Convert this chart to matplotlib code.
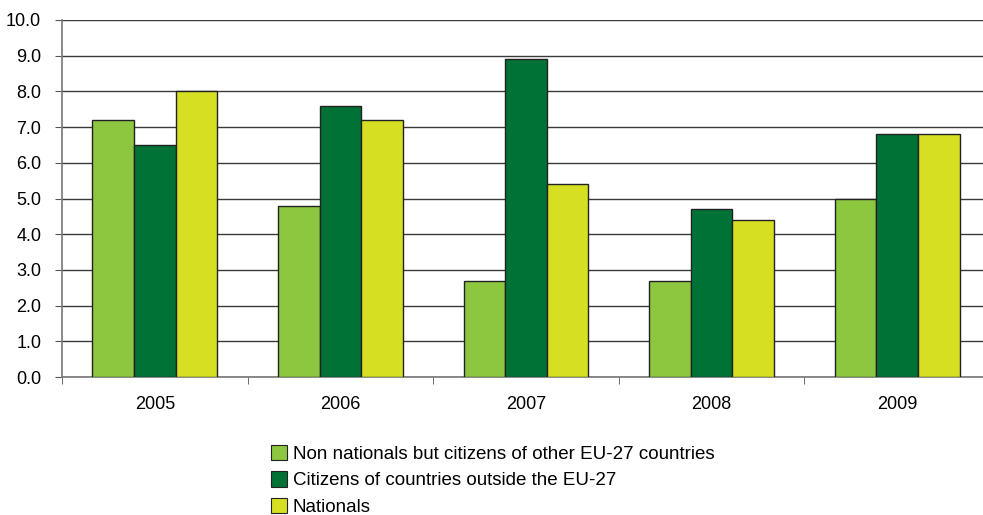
import numpy as np
import matplotlib
matplotlib.use("Agg")
import matplotlib.pyplot as plt
from matplotlib.patches import Patch

years = ["2005", "2006", "2007", "2008", "2009"]
eu_citizens = [7.2, 4.8, 2.7, 2.7, 5.0]
non_eu_citizens = [6.5, 7.6, 8.9, 4.7, 6.8]
nationals = [8.0, 7.2, 5.4, 4.4, 6.8]

series_labels = [
    "Non nationals but citizens of other EU-27 countries",
    "Citizens of countries outside the EU-27",
    "Nationals",
]
colors = ["#8DC63F", "#007236", "#D7DF23"]

plt.rcParams["font.family"] = ["Liberation Sans", "DejaVu Sans"]
plt.rcParams["font.size"] = 13

W, H = 983, 515
fig = plt.figure(figsize=(W / 100, H / 100), dpi=100)
ax = fig.add_axes([62 / W, (H - 377) / H, (990 - 62) / W, (377 - 20) / H])

x = np.arange(len(years))
bw = 0.224
for i, (vals, c) in enumerate(zip([eu_citizens, non_eu_citizens, nationals], colors)):
    ax.bar(x + (i - 1) * bw, vals, bw, color=c, edgecolor="#222222",
           linewidth=1.0, zorder=3)

ax.set_xlim(-0.5, len(years) - 0.5)
ax.set_ylim(0, 10)
ax.set_yticks(np.arange(0, 10.1, 1))
ax.set_yticklabels([f"{v:.1f}" for v in np.arange(0, 10.1, 1)])
ax.yaxis.grid(True, color="#3a3a3a", linewidth=1.0, zorder=0)

# year labels in the middle, tick marks on the group boundaries
ax.set_xticks(x)
ax.set_xticklabels(years)
ax.tick_params(axis="x", length=0, pad=14)
ax.set_xticks(np.arange(-0.5, len(years), 1), minor=True)
ax.tick_params(axis="x", which="minor", length=5, color="#555555")
ax.tick_params(axis="y", length=5, color="#555555", pad=10)

for side in ["top", "right"]:
    ax.spines[side].set_visible(False)
for side in ["left", "bottom"]:
    ax.spines[side].set_color("#777777")
    ax.spines[side].set_linewidth(1.2)

handles = [Patch(facecolor=c, edgecolor="#222222", linewidth=0.8) for c in colors]
fig.legend(handles, series_labels, loc="upper left",
           bbox_to_anchor=(263 / W, 1 - 437 / H), frameon=False,
           handlelength=0.9, handleheight=0.9, handletextpad=0.3,
           labelspacing=0.45, borderaxespad=0, fontsize=13.5)

fig.savefig("out.png", dpi=100)
